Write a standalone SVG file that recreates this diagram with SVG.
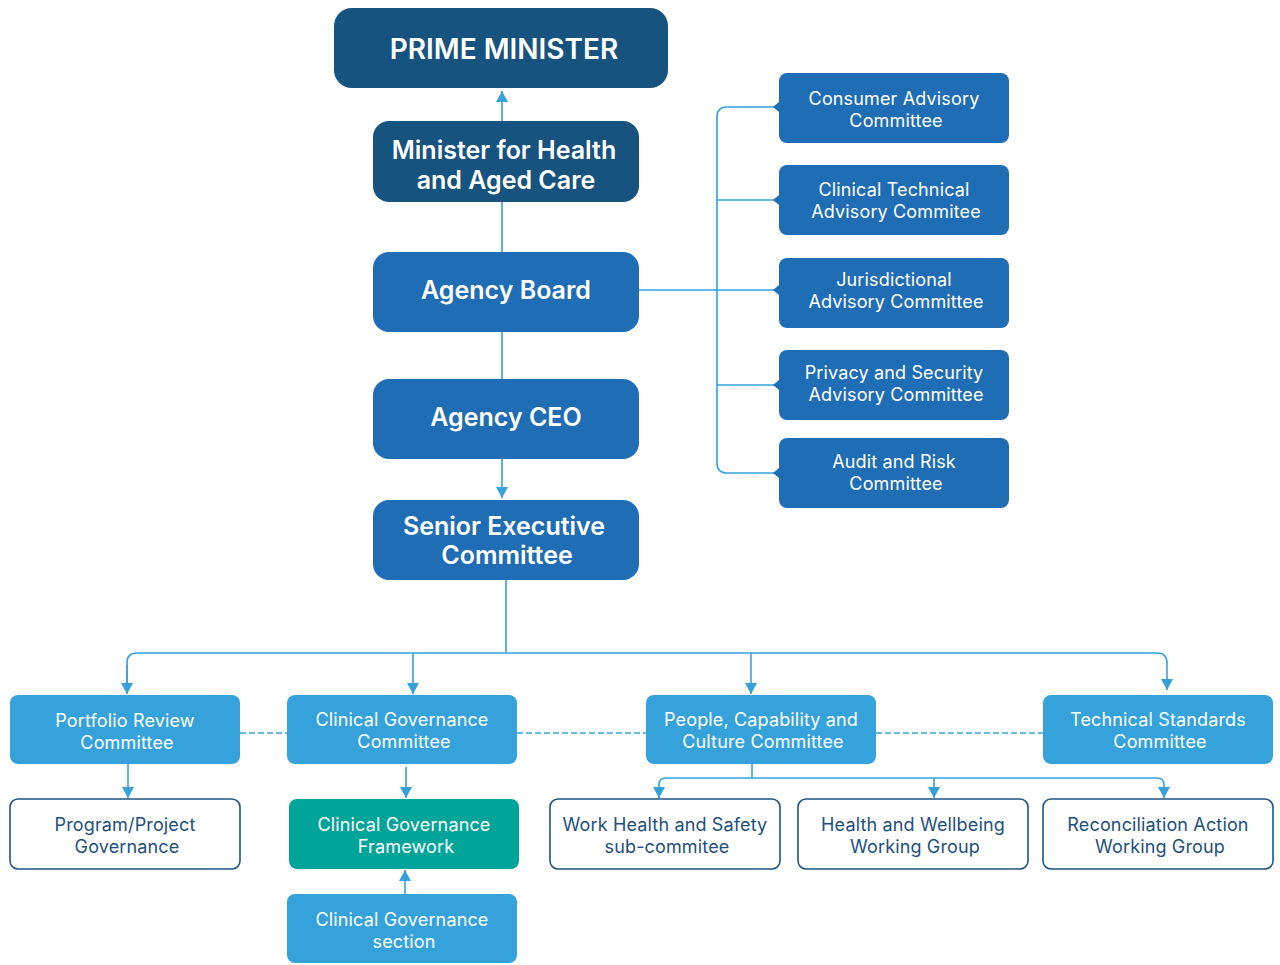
<svg xmlns="http://www.w3.org/2000/svg" width="1280" height="965" viewBox="0 0 1280 965">
<defs>
<marker id="ah" markerUnits="userSpaceOnUse" markerWidth="12" markerHeight="12" refX="11" refY="6" orient="auto">
<path d="M0,0 L11,6 L0,12 Z" fill="#35A2DB"/>
</marker>
<style>
text{font-family:Inter,"Noto Sans","Liberation Sans",sans-serif;text-anchor:middle;}
.dark{fill:#17537F;}
.mid{fill:#1F6DB5;}
.light{fill:#35A2DB;}
.teal{fill:#00A499;}
.out{fill:#FFFFFF;stroke:#1D5585;stroke-width:1.6;}
.wt{fill:#FFFFFF;}
.dt{fill:#1D4F7C;}
.big{font-size:25px;font-weight:600;}
.sm{font-size:18px;letter-spacing:0.15px;}
.c{fill:none;stroke:#35A2DB;stroke-width:1.6;}
.d{fill:none;stroke:#35A2DB;stroke-width:1.6;stroke-dasharray:6 3;}
</style>
</defs>
<rect width="1280" height="965" fill="#FFFFFF"/>

<g id="connectors">
<line class="c" x1="502" y1="121" x2="502" y2="91" marker-end="url(#ah)"/>
<line class="c" x1="502" y1="202" x2="502" y2="252"/>
<line class="c" x1="502" y1="332" x2="502" y2="379"/>
<line class="c" x1="502" y1="459" x2="502" y2="498" marker-end="url(#ah)"/>
<line class="c" x1="639" y1="290" x2="779" y2="290"/>
<path class="c" d="M779,107 H727 Q717,107 717,117 V463 Q717,473 727,473 H779"/>
<line class="c" x1="717" y1="200" x2="779" y2="200"/>
<line class="c" x1="717" y1="385" x2="779" y2="385"/>
<line class="c" x1="506" y1="580" x2="506" y2="653"/>
<path class="c" d="M127,693 V663 Q127,653 137,653 H1157 Q1167,653 1167,663 V690" marker-end="url(#ah)"/>
<line class="c" x1="127" y1="665" x2="127" y2="694" marker-end="url(#ah)"/>
<line class="c" x1="413" y1="653" x2="413" y2="694" marker-end="url(#ah)"/>
<line class="c" x1="751" y1="653" x2="751" y2="694" marker-end="url(#ah)"/>
<line class="d" x1="240" y1="733" x2="287" y2="733"/>
<line class="d" x1="517" y1="733" x2="646" y2="733"/>
<line class="d" x1="876" y1="733" x2="1043" y2="733"/>
<line class="c" x1="128" y1="764" x2="128" y2="798" marker-end="url(#ah)"/>
<line class="c" x1="406" y1="767" x2="406" y2="798" marker-end="url(#ah)"/>
<line class="c" x1="405" y1="894" x2="405" y2="870" marker-end="url(#ah)"/>
<line class="c" x1="752" y1="764" x2="752" y2="778"/>
<path class="c" d="M659,798 V785 Q659,778 666,778 H1157 Q1164,778 1164,785 V798" marker-end="url(#ah)"/>
<line class="c" x1="659" y1="790" x2="659" y2="798" marker-end="url(#ah)"/>
<line class="c" x1="934" y1="778" x2="934" y2="798" marker-end="url(#ah)"/>
</g>

<g id="prime-minister">
<rect class="dark" x="334" y="8" width="334" height="80" rx="18"/>
<text class="wt" x="504" y="59" font-size="28" font-weight="600">PRIME MINISTER</text>
</g>
<g id="minister">
<rect class="dark" x="373" y="121" width="266" height="81" rx="16"/>
<text class="wt big" x="504" y="159">Minister for Health</text>
<text class="wt big" x="506" y="189">and Aged Care</text>
</g>
<g id="agency-board">
<rect class="mid" x="373" y="252" width="266" height="80" rx="16"/>
<text class="wt big" x="506" y="299">Agency Board</text>
</g>
<g id="agency-ceo">
<rect class="mid" x="373" y="379" width="266" height="80" rx="16"/>
<text class="wt big" x="506" y="426">Agency CEO</text>
</g>
<g id="senior-exec">
<rect class="mid" x="373" y="500" width="266" height="80" rx="16"/>
<text class="wt big" x="504" y="535">Senior Executive</text>
<text class="wt big" x="507" y="564">Committee</text>
</g>

<g id="consumer-advisory">
<path class="mid" d="M779,102 L773,107 L779,112 Z"/>
<rect class="mid" x="779" y="73" width="230" height="70" rx="8"/>
<text class="wt sm" x="894" y="105">Consumer Advisory</text>
<text class="wt sm" x="896" y="127">Committee</text>
</g>
<g id="clinical-technical">
<path class="mid" d="M779,195 L773,200 L779,205 Z"/>
<rect class="mid" x="779" y="165" width="230" height="70" rx="8"/>
<text class="wt sm" x="894" y="196">Clinical Technical</text>
<text class="wt sm" x="896" y="218">Advisory Commitee</text>
</g>
<g id="jurisdictional">
<path class="mid" d="M779,285 L773,290 L779,295 Z"/>
<rect class="mid" x="779" y="258" width="230" height="70" rx="8"/>
<text class="wt sm" x="894" y="286">Jurisdictional</text>
<text class="wt sm" x="896" y="308">Advisory Committee</text>
</g>
<g id="privacy-security">
<path class="mid" d="M779,380 L773,385 L779,390 Z"/>
<rect class="mid" x="779" y="350" width="230" height="70" rx="8"/>
<text class="wt sm" x="894" y="379">Privacy and Security</text>
<text class="wt sm" x="896" y="401">Advisory Committee</text>
</g>
<g id="audit-risk">
<path class="mid" d="M779,468 L773,473 L779,478 Z"/>
<rect class="mid" x="779" y="438" width="230" height="70" rx="8"/>
<text class="wt sm" x="894" y="468">Audit and Risk</text>
<text class="wt sm" x="896" y="490">Committee</text>
</g>

<g id="portfolio-review">
<rect class="light" x="10" y="695" width="230" height="69" rx="8"/>
<text class="wt sm" x="125" y="727">Portfolio Review</text>
<text class="wt sm" x="127" y="749">Committee</text>
</g>
<g id="clinical-gov-committee">
<rect class="light" x="287" y="695" width="230" height="69" rx="8"/>
<text class="wt sm" x="402" y="726">Clinical Governance</text>
<text class="wt sm" x="404" y="748">Committee</text>
</g>
<g id="people-capability">
<rect class="light" x="646" y="695" width="230" height="69" rx="8"/>
<text class="wt sm" x="761" y="726">People, Capability and</text>
<text class="wt sm" x="763" y="748">Culture Committee</text>
</g>
<g id="technical-standards">
<rect class="light" x="1043" y="695" width="230" height="69" rx="8"/>
<text class="wt sm" x="1158" y="726">Technical Standards</text>
<text class="wt sm" x="1160" y="748">Committee</text>
</g>

<g id="program-project">
<rect class="out" x="10" y="799" width="230" height="70" rx="8"/>
<text class="dt sm" x="125" y="831">Program/Project</text>
<text class="dt sm" x="127" y="853">Governance</text>
</g>
<g id="clinical-gov-framework">
<rect class="teal" x="289" y="799" width="230" height="70" rx="8"/>
<text class="wt sm" x="404" y="831">Clinical Governance</text>
<text class="wt sm" x="406" y="853">Framework</text>
</g>
<g id="clinical-gov-section">
<rect class="light" x="287" y="894" width="230" height="69" rx="8"/>
<text class="wt sm" x="402" y="926">Clinical Governance</text>
<text class="wt sm" x="404" y="948">section</text>
</g>
<g id="work-health-safety">
<rect class="out" x="550" y="799" width="230" height="70" rx="8"/>
<text class="dt sm" x="665" y="831">Work Health and Safety</text>
<text class="dt sm" x="667" y="853">sub-commitee</text>
</g>
<g id="health-wellbeing">
<rect class="out" x="798" y="799" width="230" height="70" rx="8"/>
<text class="dt sm" x="913" y="831">Health and Wellbeing</text>
<text class="dt sm" x="915" y="853">Working Group</text>
</g>
<g id="reconciliation">
<rect class="out" x="1043" y="799" width="230" height="70" rx="8"/>
<text class="dt sm" x="1158" y="831">Reconciliation Action</text>
<text class="dt sm" x="1160" y="853">Working Group</text>
</g>
</svg>
